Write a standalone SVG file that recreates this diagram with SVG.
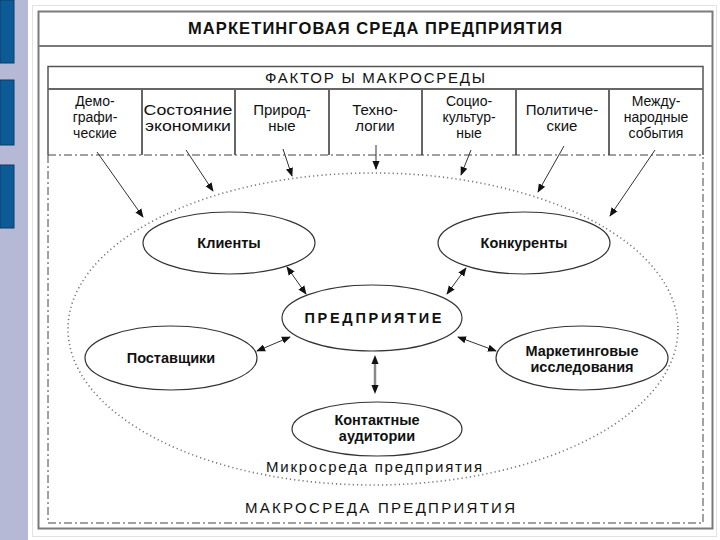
<svg xmlns="http://www.w3.org/2000/svg" width="720" height="540" viewBox="0 0 720 540">
<defs>
<marker id="ah" viewBox="0 0 10 10" refX="9" refY="5" markerWidth="9" markerHeight="9" markerUnits="userSpaceOnUse" orient="auto-start-reverse">
<path d="M0,1 L10,5 L0,9 Z" fill="#111"/>
</marker>
<style>
text{font-family:"Liberation Sans",Arial,sans-serif;fill:#111;text-anchor:middle}
.t{font-size:16.5px;font-weight:bold}
.h{font-size:15px}
.c{font-size:15px}
.c3{font-size:14px}
.b{font-size:14.5px;font-weight:bold}
.n{fill:#fff;stroke:#333;stroke-width:1.2}
.ar{stroke:#333;stroke-width:1;fill:none;marker-end:url(#ah)}
.da{stroke:#333;stroke-width:1;fill:none;marker-start:url(#ah);marker-end:url(#ah)}
.dd{stroke:#444;stroke-width:1;fill:none;stroke-dasharray:8 3 2 3}
.div{stroke:#666;stroke-width:2}
</style>
</defs>
<rect width="720" height="540" fill="#fff"/>
<!-- left strip -->
<rect x="0" y="0" width="28" height="540" fill="#b6b9d5"/>
<rect x="0" y="0" width="14" height="63" fill="#0e5a96" stroke="#0a3d66"/>
<rect x="0" y="80" width="14" height="65" fill="#0e5a96" stroke="#0a3d66"/>
<rect x="0" y="165" width="14" height="63" fill="#0e5a96" stroke="#0a3d66"/>
<rect x="32.5" y="5.5" width="684" height="531" fill="none" stroke="#e2e2e2"/>
<!-- outer frame -->
<g id="frame">
<rect x="38.5" y="11.5" width="674" height="517" fill="none" stroke="#7a7a7a" stroke-width="2"/>
<line x1="38" y1="46" x2="712" y2="46" stroke="#7a7a7a" stroke-width="2"/>
<text class="t" x="375" y="34" textLength="374" lengthAdjust="spacing">МАРКЕТИНГОВАЯ СРЕДА ПРЕДПРИЯТИЯ</text>
</g>
<!-- factors box -->
<g id="factors">
<path d="M48,155 V66.5 H703 V155" fill="none" stroke="#555" stroke-width="1.5"/>
<line x1="48" y1="89" x2="703" y2="89" class="div"/>
<line x1="142" y1="89" x2="142" y2="155" class="div"/>
<line x1="235" y1="89" x2="235" y2="155" class="div"/>
<line x1="329" y1="89" x2="329" y2="155" class="div"/>
<line x1="422" y1="89" x2="422" y2="155" class="div"/>
<line x1="516" y1="89" x2="516" y2="155" class="div"/>
<line x1="609" y1="89" x2="609" y2="155" class="div"/>
<text class="h" x="375" y="83" textLength="220" lengthAdjust="spacing">ФАКТОР Ы МАКРОСРЕДЫ</text>
</g>
<g id="f1"><text class="c3" x="95" y="106">Демо-</text><text class="c3" x="95" y="122">графи-</text><text class="c3" x="95" y="138">ческие</text></g>
<g id="f2"><text class="c" x="188" y="115" textLength="89" lengthAdjust="spacingAndGlyphs">Состояние</text><text class="c" x="188" y="131" textLength="86" lengthAdjust="spacingAndGlyphs">экономики</text></g>
<g id="f3"><text class="c" x="282" y="115">Природ-</text><text class="c" x="282" y="131">ные</text></g>
<g id="f4"><text class="c" x="375" y="115">Техно-</text><text class="c" x="375" y="131">логии</text></g>
<g id="f5"><text class="c3" x="469" y="106">Социо-</text><text class="c3" x="469" y="122">культур-</text><text class="c3" x="469" y="138">ные</text></g>
<g id="f6"><text class="c" x="562" y="115">Политиче-</text><text class="c" x="562" y="131">ские</text></g>
<g id="f7"><text class="c3" x="656" y="106">Между-</text><text class="c3" x="656" y="122">народные</text><text class="c3" x="656" y="138">события</text></g>
<!-- macro frame -->
<g id="macro">
<path class="dd" d="M48,155 H703 M48,155 V523 H703 V155"/>
<text class="h" x="380" y="513" textLength="270" lengthAdjust="spacing">МАКРОСРЕДА ПРЕДПРИЯТИЯ</text>
</g>
<!-- micro ellipse -->
<g id="micro">
<ellipse cx="373" cy="329" rx="305" ry="156" fill="none" stroke="#777" stroke-width="1.6" stroke-dasharray="1.2 3"/>
<text class="h" x="374" y="472" textLength="216" lengthAdjust="spacing">Микросреда предприятия</text>
</g>
<!-- nodes -->
<g id="clients"><ellipse class="n" cx="229" cy="243" rx="86" ry="31"/><text class="b" x="229" y="248">Клиенты</text></g>
<g id="competitors"><ellipse class="n" cx="524" cy="243" rx="86" ry="31"/><text class="b" x="524" y="248">Конкуренты</text></g>
<g id="enterprise"><ellipse class="n" cx="372" cy="318" rx="90" ry="33"/><text class="b" x="373" y="323" textLength="137" lengthAdjust="spacing">ПРЕДПРИЯТИЕ</text></g>
<g id="suppliers"><ellipse class="n" cx="171" cy="358" rx="86" ry="32"/><text class="b" x="171" y="363">Поставщики</text></g>
<g id="research"><ellipse class="n" cx="582" cy="358" rx="86" ry="32"/><text class="b" x="582" y="356">Маркетинговые</text><text class="b" x="582" y="372">исследования</text></g>
<g id="audiences"><ellipse class="n" cx="377" cy="429" rx="85" ry="27"/><text class="b" x="377" y="425">Контактные</text><text class="b" x="377" y="441">аудитории</text></g>
<!-- connectors -->
<g id="connectors">
<line class="ar" x1="97" y1="152" x2="143" y2="217"/>
<line class="ar" x1="186" y1="150" x2="213" y2="191"/>
<line class="ar" x1="283" y1="149" x2="292" y2="176"/>
<line class="ar" x1="376" y1="145" x2="376" y2="169"/>
<line class="ar" x1="471" y1="150" x2="461" y2="175"/>
<line class="ar" x1="564" y1="146" x2="538" y2="192"/>
<line class="ar" x1="655" y1="150" x2="610" y2="216"/>
<line class="da" x1="287" y1="267" x2="306" y2="294"/>
<line class="da" x1="466" y1="268" x2="447" y2="294"/>
<line class="da" x1="290" y1="337" x2="257" y2="351"/>
<line class="da" x1="458" y1="337" x2="496" y2="351"/>
<line x1="375" y1="360" x2="375" y2="390" stroke="#888" stroke-width="2.5"/>
<line class="da" x1="375" y1="356" x2="375" y2="393" stroke-opacity="0"/>
</g>
</svg>
